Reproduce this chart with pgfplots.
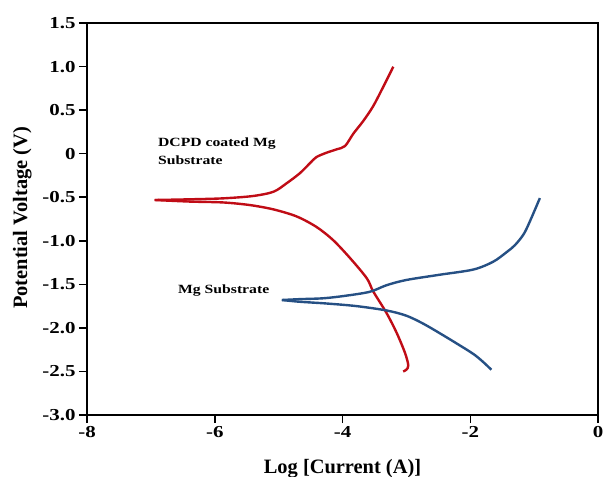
\documentclass[border=0pt]{standalone}
\usepackage{pgfplots}
\pgfplotsset{compat=1.18}
\usepackage{fontspec}
\setmainfont{Liberation Serif}
\newfontfamily\widefont{Liberation Serif}[FakeStretch=1.25]
\definecolor{dcpd}{RGB}{192,12,22}
\definecolor{mgblue}{RGB}{38,80,132}

\begin{document}
\begin{tikzpicture}
\useasboundingbox (-87bp,-62bp) rectangle (516bp,415bp);
\begin{axis}[
  at={(0,0)}, anchor=south west,
  scale only axis, width=511bp, height=392bp,
  xmin=-8, xmax=0, ymin=-3, ymax=1.5,
  xtick={-8,-6,-4,-2,0}, xticklabels={-8,-6,-4,-2,0},
  ytick={-3,-2.5,-2,-1.5,-1,-0.5,0,0.5,1,1.5},
  yticklabels={-3.0,-2.5,-2.0,-1.5,-1.0,-0.5,0,0.5,1.0,1.5},
  tick align=outside, major tick length=8bp,
  xtick pos=bottom, ytick pos=left,
  axis line style={line width=1.8bp},
  tick style={line width=1.5bp, black},
  tick label style={font=\widefont\bfseries\fontsize{16.8}{18}\selectfont},
  xlabel={Log [Current (A)]},
  ylabel={Potential Voltage (V)},
  label style={font=\bfseries\fontsize{20.5}{22}\selectfont},
  xlabel style={at={(axis description cs:0.5,-0.148)}, anchor=base},
  ylabel style={at={(axis description cs:-0.117,0.503)}, anchor=base},
  clip=false,
]
% DCPD coated Mg, anodic branch
\addplot[dcpd, line width=2.4bp, smooth] coordinates {
  (-3.205,0.998) (-3.36,0.77) (-3.52,0.545) (-3.675,0.375) (-3.83,0.23)
  (-3.96,0.088) (-4.09,0.05) (-4.25,0.011) (-4.41,-0.04) (-4.51,-0.11)
  (-4.67,-0.226) (-4.875,-0.34) (-5.08,-0.437) (-5.40,-0.486) (-5.87,-0.513)
  (-6.39,-0.524) (-6.94,-0.532)
};
% DCPD coated Mg, cathodic branch
\addplot[dcpd, line width=2.4bp, smooth] coordinates {
  (-6.94,-0.532) (-6.39,-0.55) (-5.87,-0.56) (-5.45,-0.59) (-5.08,-0.64)
  (-4.72,-0.72) (-4.41,-0.84) (-4.15,-0.99) (-3.88,-1.20) (-3.62,-1.43)
  (-3.52,-1.58) (-3.31,-1.83) (-3.15,-2.06) (-3.02,-2.29) (-2.97,-2.43)
  (-3.00,-2.48) (-3.05,-2.50)
};
% Mg substrate, anodic branch
\addplot[mgblue, line width=2.4bp, smooth] coordinates {
  (-0.91,-0.51) (-1.05,-0.75) (-1.16,-0.92) (-1.30,-1.05) (-1.43,-1.13)
  (-1.64,-1.24) (-1.95,-1.33) (-2.48,-1.39) (-3.0,-1.45) (-3.31,-1.51)
  (-3.57,-1.585) (-3.94,-1.63) (-4.30,-1.66) (-4.67,-1.67) (-4.95,-1.68)
};
% Mg substrate, cathodic branch
\addplot[mgblue, line width=2.4bp, smooth] coordinates {
  (-4.95,-1.68) (-4.67,-1.70) (-4.25,-1.72) (-3.78,-1.75) (-3.31,-1.80)
  (-3.0,-1.86) (-2.74,-1.95) (-2.48,-2.06) (-2.21,-2.18) (-1.95,-2.30)
  (-1.80,-2.39) (-1.67,-2.48)
};
\node[anchor=base west, inner sep=0pt, font=\widefont\bfseries\fontsize{12.6}{14}\selectfont]
  at (axis cs:-6.89,0.08) {DCPD coated Mg};
\node[anchor=base west, inner sep=0pt, font=\widefont\bfseries\fontsize{12.6}{14}\selectfont]
  at (axis cs:-6.89,-0.12) {Substrate};
\node[anchor=base west, inner sep=0pt, font=\widefont\bfseries\fontsize{12.6}{14}\selectfont]
  at (axis cs:-6.576,-1.60) {Mg Substrate};
\end{axis}
\end{tikzpicture}
\end{document}
